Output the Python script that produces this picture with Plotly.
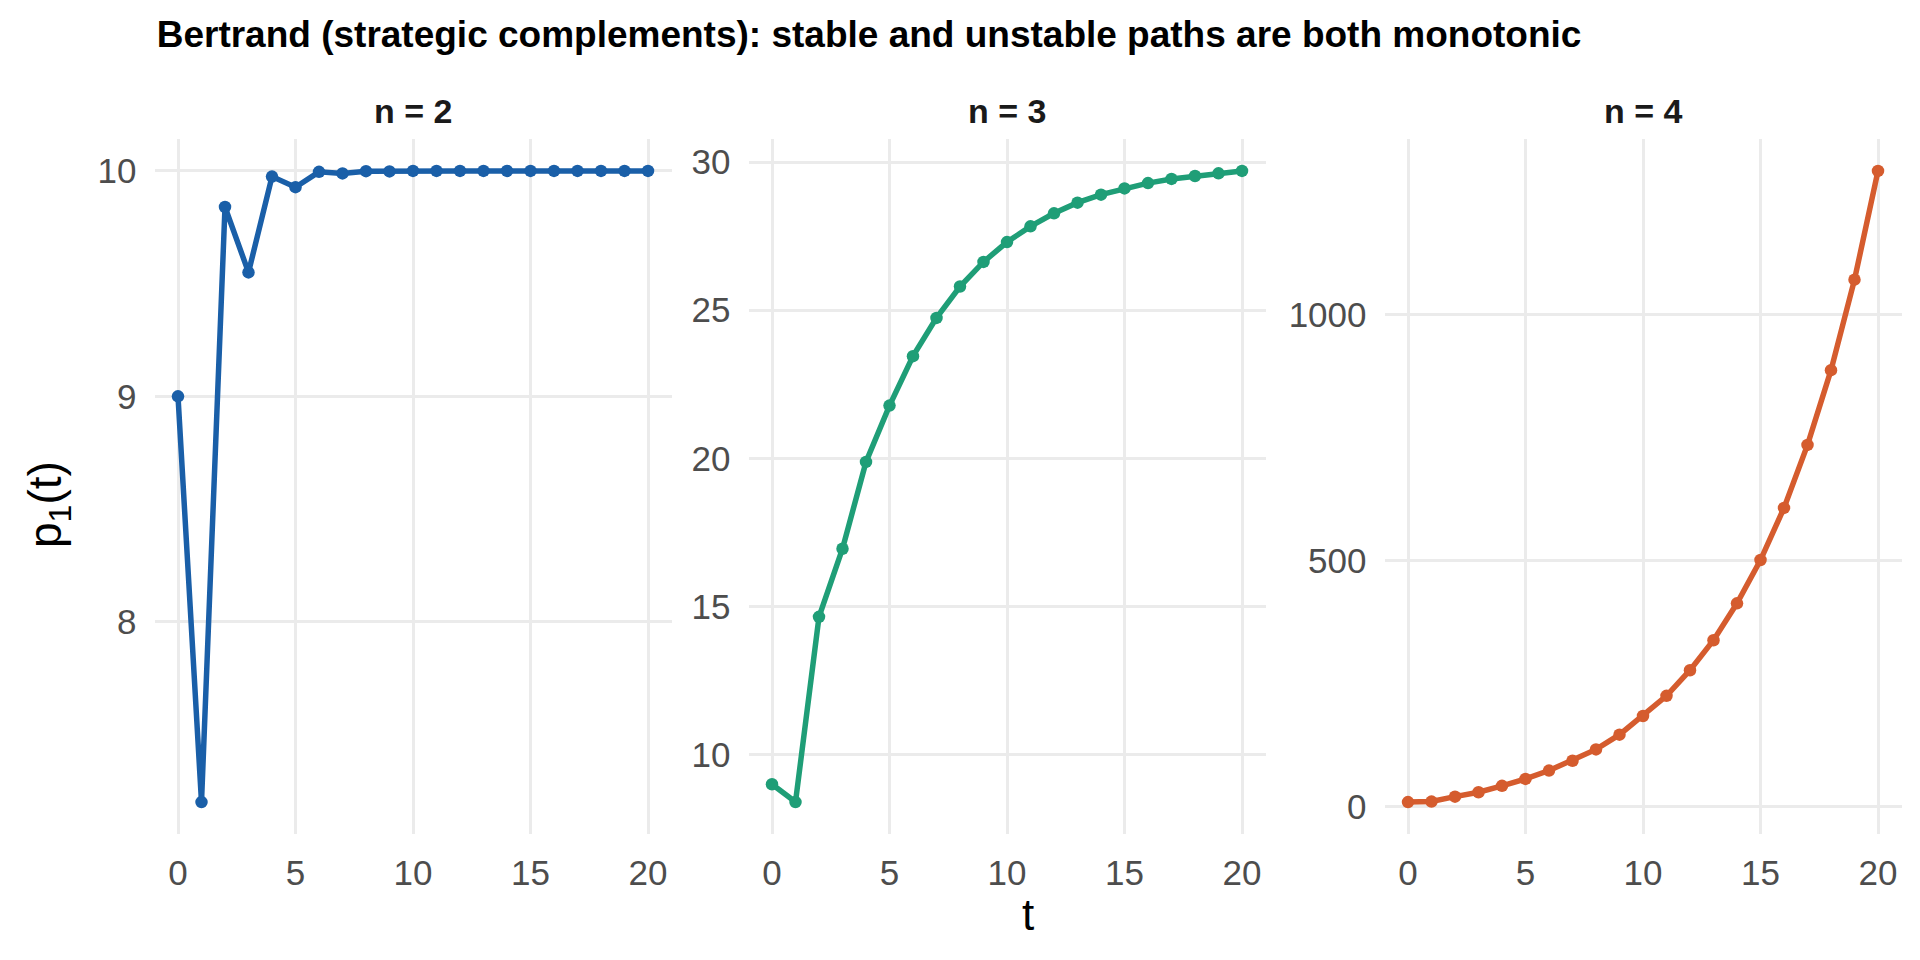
import plotly.graph_objects as go

# time steps
t = list(range(21))

# p1(t) for each number of firms
p_n2 = [9.0, 7.2, 9.84, 9.55, 9.975, 9.928, 9.996, 9.989, 9.999, 9.998,
        10.0, 10.0, 10.0, 10.0, 10.0, 10.0, 10.0, 10.0, 10.0, 10.0, 10.0]
p_n3 = [9.0, 8.4, 14.65, 16.95, 19.88, 21.78, 23.45, 24.74, 25.8, 26.63,
        27.3, 27.83, 28.27, 28.63, 28.9, 29.11, 29.29, 29.43, 29.53, 29.62, 29.7]
p_n4 = [9, 10, 20, 29, 42, 56, 73, 93, 116, 146,
        184, 225, 277, 338, 413, 501, 607, 735, 887, 1071, 1292]

panel_titles = ["n = 2", "n = 3", "n = 4"]
series = [p_n2, p_n3, p_n4]
colors = ["#1A5FA8", "#1F9E77", "#D55C2E"]
y_ticks = [[8, 9, 10], [10, 15, 20, 25, 30], [0, 500, 1000]]
x_ticks = [0, 5, 10, 15, 20]

# the page body has an 8px margin, so the figure is 16px smaller than the window
W, H = 1904, 944


def px(x):
    return (x - 8) / W


def py(y):
    return 1 - (y - 8) / H


# panel geometry, measured in window pixels
x_domains = [[px(154.5), px(671.5)], [px(748.5), px(1265.5)], [px(1384.5), px(1901.5)]]
y_domain = [py(833.6), py(139.4)]

FONT = "Liberation Sans, Arial, sans-serif"
GRID = "#EBEBEB"
TICK_COL = "#4D4D4D"

fig = go.Figure()
layout = {}
annotations = []

for i, (vals, col) in enumerate(zip(series, colors)):
    k = "" if i == 0 else str(i + 1)
    fig.add_trace(go.Scatter(
        x=t, y=vals, mode="lines+markers",
        line=dict(color=col, width=5.5),
        marker=dict(color=col, size=12.5),
        xaxis="x" + k, yaxis="y" + k,
        showlegend=False,
    ))

    lo, hi = min(vals), max(vals)
    pad = (hi - lo) * 0.05

    layout["xaxis" + k] = dict(
        domain=x_domains[i], anchor="y" + k, range=[-1, 21],
        tickvals=x_ticks, showgrid=True, gridcolor=GRID, gridwidth=3,
        zeroline=False, showline=False, ticks="outside", ticklen=8,
        tickcolor="rgba(0,0,0,0)",
        tickfont=dict(size=35, color=TICK_COL, family=FONT),
    )
    layout["yaxis" + k] = dict(
        domain=y_domain, anchor="x" + k, range=[lo - pad, hi + pad],
        tickvals=y_ticks[i], showgrid=True, gridcolor=GRID, gridwidth=3,
        zeroline=False, showline=False, ticks="outside", ticklen=10,
        tickcolor="rgba(0,0,0,0)",
        tickfont=dict(size=35, color=TICK_COL, family=FONT),
    )

    # facet strip label
    annotations.append(dict(
        text="<b>" + panel_titles[i] + "</b>",
        x=sum(x_domains[i]) / 2, y=py(111), xref="paper", yref="paper",
        xanchor="center", yanchor="middle", showarrow=False,
        font=dict(size=34, color="#1A1A1A", family=FONT),
    ))

# axis titles
annotations.append(dict(
    text="t", x=(x_domains[0][0] + x_domains[2][1]) / 2, y=py(914),
    xref="paper", yref="paper", xanchor="center", yanchor="middle",
    showarrow=False, font=dict(size=44, color="black", family=FONT),
))
annotations.append(dict(
    text="p<sub>1</sub>(t)", x=px(48), y=py(505), textangle=-90,
    xref="paper", yref="paper", xanchor="center", yanchor="middle",
    showarrow=False, font=dict(size=46, color="black", family=FONT),
))

fig.update_layout(
    **layout,
    annotations=annotations,
    width=W, height=H,
    paper_bgcolor="white", plot_bgcolor="white",
    margin=dict(l=0, r=0, t=0, b=0),
    title=dict(
        text="<b>Bertrand (strategic complements): stable and unstable paths are both monotonic</b>",
        x=px(156.7), xanchor="left", y=py(34), yanchor="middle",
        font=dict(size=37, color="black", family=FONT),
    ),
)

fig.write_html("out.html")
